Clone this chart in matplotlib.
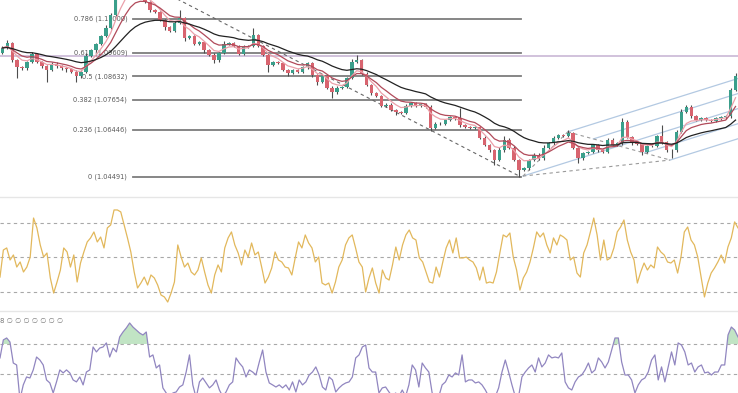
import numpy as np
import pandas as pd
import matplotlib
matplotlib.use("Agg")
import matplotlib.pyplot as plt
from matplotlib.lines import Line2D

# ============================
# Price data (one candle per slot)
# ============================
first_open = 1.0960
closes = [
    1.0981, 1.1001, 1.0931, 1.0902, 1.0898, 1.0923, 1.0956, 1.0923, 1.0906, 1.0890,
    1.0915, 1.0906, 1.0898, 1.0894, 1.0882, 1.0865, 1.0882, 1.0948, 1.0972, 1.0997,
    1.1030, 1.1063, 1.1117, 1.1199, 1.1240, 1.1261, 1.1269, 1.1240, 1.1199, 1.1170,
    1.1137, 1.1129, 1.1096, 1.1067, 1.1051, 1.1084, 1.1104, 1.1022, 1.1030, 1.0997,
    1.1005, 1.0972, 1.0952, 1.0931, 1.0960, 1.0997, 1.1001, 1.0989, 1.0956, 1.0985,
    1.0989, 1.1034, 1.0989, 1.0952, 1.0911, 1.0923, 1.0919, 1.0890, 1.0878, 1.0890,
    1.0882, 1.0902, 1.0919, 1.0869, 1.0841, 1.0865, 1.0816, 1.0799, 1.0816, 1.0820,
    1.0857, 1.0923, 1.0931, 1.0874, 1.0828, 1.0795, 1.0783, 1.0742, 1.0746, 1.0725,
    1.0717, 1.0713, 1.0742, 1.0754, 1.0742, 1.0750, 1.0738, 1.0651, 1.0668, 1.0668,
    1.0684, 1.0696, 1.0692, 1.0663, 1.0655, 1.0651, 1.0655, 1.0610, 1.0581, 1.0560,
    1.0519, 1.0560, 1.0602, 1.0569, 1.0519, 1.0478, 1.0486, 1.0519, 1.0540, 1.0527,
    1.0569, 1.0589, 1.0610, 1.0622, 1.0618, 1.0630, 1.0569, 1.0527, 1.0548, 1.0552,
    1.0581, 1.0560, 1.0552, 1.0602, 1.0581, 1.0589, 1.0676, 1.0614, 1.0589, 1.0585,
    1.0552, 1.0577, 1.0577, 1.0618, 1.0593, 1.0560, 1.0560, 1.0635, 1.0717, 1.0738,
    1.0700, 1.0684, 1.0692, 1.0684, 1.0680, 1.0692, 1.0696, 1.0700, 1.0808, 1.0865,
]
# wick length above / below the body, in pips
wick_hi = [
    6, 12, 6, 6, 6, 6, 10, 6, 6, 6,
    6, 6, 6, 6, 6, 6, 6, 10, 6, 6,
    6, 12, 6, 6, 6, 6, 12, 6, 6, 6,
    6, 6, 6, 6, 6, 6, 33, 6, 6, 6,
    6, 6, 6, 6, 6, 12, 6, 6, 6, 6,
    6, 29, 6, 6, 6, 6, 6, 6, 6, 6,
    6, 6, 6, 6, 6, 6, 6, 6, 6, 6,
    6, 14, 20, 6, 6, 6, 6, 6, 6, 6,
    6, 6, 6, 6, 6, 6, 6, 6, 6, 6,
    6, 6, 6, 41, 6, 6, 6, 6, 6, 6,
    6, 12, 14, 6, 6, 6, 6, 6, 6, 6,
    12, 6, 6, 6, 6, 12, 6, 6, 6, 6,
    6, 6, 6, 6, 6, 6, 16, 6, 6, 6,
    6, 6, 6, 6, 45, 6, 6, 6, 14, 6,
    6, 6, 6, 6, 6, 6, 6, 6, 6, 12,
]
wick_lo = [
    6, 6, 6, 45, 6, 6, 6, 6, 6, 49,
    6, 6, 6, 12, 6, 25, 6, 6, 6, 6,
    6, 6, 6, 6, 6, 6, 6, 6, 6, 6,
    6, 6, 6, 14, 6, 6, 6, 12, 6, 6,
    6, 12, 6, 14, 6, 6, 6, 6, 6, 6,
    6, 6, 6, 6, 29, 6, 6, 6, 14, 6,
    6, 6, 6, 6, 14, 6, 6, 25, 6, 6,
    6, 6, 6, 6, 6, 6, 6, 6, 6, 6,
    14, 6, 6, 6, 6, 6, 6, 14, 6, 6,
    6, 6, 6, 6, 6, 6, 6, 6, 6, 6,
    20, 6, 6, 6, 6, 29, 6, 6, 6, 6,
    6, 6, 6, 6, 6, 6, 6, 20, 6, 6,
    6, 6, 6, 6, 6, 6, 6, 6, 6, 6,
    14, 6, 6, 6, 6, 6, 33, 6, 6, 6,
    6, 6, 6, 6, 6, 6, 6, 6, 6, 6,
]

# moving average spans (candles)
ma_spans = [5, 9, 22]

# ============================
# Fibonacci retracement + drawings
# ============================
fib_ratios = ["0.786", "0.618", "0.5", "0.382", "0.236", "0"]
fib_prices = [1.11000, 1.09609, 1.08632, 1.07654, 1.06446, 1.04491]
fib_high = (26.5, 1.12772)
fib_low = (105.4, 1.04491)
level_line = 1.0948

# pitchfork anchors (candle index, price)
fork_a = (105.8, 1.0453)
fork_b = (114.9, 1.0635)
fork_c = (135.7, 1.0519)

# ============================
# Oscillators
# ============================
osc_levels = [80, 50, 20]
osc = [
    33.0, 56.5, 58.3, 47.8, 52.2, 41.7, 46.1, 37.4, 41.7, 50.4,
    84.3, 75.7, 60.9, 50.4, 53.9, 32.2, 19.1, 28.7, 39.1, 58.3,
    54.8, 41.7, 52.2, 28.7, 45.2, 54.8, 63.5, 67.0, 72.2, 63.5,
    67.8, 58.3, 75.7, 78.3, 91.3, 91.3, 89.6, 78.3, 67.0, 54.8,
    37.4, 23.5, 27.8, 33.0, 26.1, 34.8, 32.2, 26.1, 17.4, 15.7,
    11.3, 19.1, 28.7, 60.9, 50.4, 41.7, 45.2, 37.4, 34.8, 39.1,
    49.6, 37.4, 26.1, 19.1, 34.8, 43.5, 37.4, 58.3, 67.0, 72.2,
    60.9, 53.9, 43.5, 56.5, 50.4, 62.6, 52.2, 54.8, 41.7, 27.8,
    33.0, 40.9, 54.8, 47.8, 46.1, 41.7, 40.9, 34.8, 49.6, 63.5,
    58.3, 69.6, 62.6, 58.3, 46.1, 50.4, 27.8, 26.1, 27.8, 19.1,
    28.7, 41.7, 47.8, 60.9, 67.0, 69.6, 58.3, 46.1, 41.7, 20.0,
    32.2, 40.9, 27.8, 19.1, 39.1, 32.2, 30.4, 43.5, 59.1, 47.8,
    60.9, 69.6, 73.9, 67.0, 65.2, 49.6, 46.1, 37.4, 28.7, 27.8,
    41.7, 33.0, 46.1, 58.3, 65.2, 53.9, 67.0, 49.6, 49.6, 50.4,
    47.8, 46.1, 40.9, 30.4, 41.7, 27.8, 28.7, 27.8, 37.4, 53.9,
    69.6, 67.8, 71.3, 50.4, 39.1, 21.7, 32.2, 37.4, 46.1, 58.3,
    72.2, 67.8, 71.3, 60.9, 53.9, 67.0, 60.9, 69.6, 67.8, 65.2,
    47.8, 50.4, 36.5, 33.0, 53.9, 60.9, 72.2, 84.3, 69.6, 47.8,
    65.2, 47.8, 49.6, 58.3, 72.2, 76.5, 82.6, 65.2, 54.8, 47.8,
    27.8, 37.4, 45.2, 39.1, 43.5, 40.9, 59.1, 54.8, 52.2, 46.1,
    45.2, 47.8, 36.5, 50.4, 72.2, 76.5, 65.2, 60.9, 50.4, 33.0,
    15.7, 27.8, 36.5, 40.9, 46.1, 52.2, 45.2, 59.1, 67.0, 80.9,
    75.7,
]

rsi_levels = [70, 50]
rsi = [
    60.7, 72.7, 74.0, 71.3, 57.3, 56.0, 33.0, 42.7, 48.0, 47.3,
    52.7, 61.3, 59.3, 56.0, 46.0, 44.0, 37.3, 44.7, 52.7, 50.7,
    52.7, 50.7, 46.0, 44.7, 48.0, 42.7, 51.3, 52.7, 68.0, 64.7,
    67.3, 68.0, 70.7, 61.3, 67.3, 64.7, 74.7, 78.0, 80.7, 84.0,
    81.3, 79.3, 77.3, 76.0, 78.0, 61.3, 62.7, 54.0, 56.0, 40.7,
    37.3, 33.0, 37.3, 38.0, 41.3, 42.7, 51.3, 62.7, 42.7, 34.0,
    44.7, 47.3, 44.0, 40.7, 42.7, 46.0, 39.3, 35.0, 38.0, 42.7,
    44.7, 60.7, 57.3, 54.7, 48.0, 52.7, 51.3, 49.3, 58.0, 66.0,
    51.3, 44.0, 42.7, 41.3, 42.7, 40.7, 42.7, 39.3, 44.7, 38.0,
    46.0, 42.7, 44.7, 49.3, 51.3, 54.7, 49.3, 41.3, 39.3, 48.0,
    46.0, 38.0, 40.7, 42.7, 44.0, 44.7, 48.0, 60.7, 62.7, 68.0,
    69.3, 54.0, 51.3, 51.3, 37.3,
    40.7, 41.3, 38.0, 35.0, 37.3, 35.0, 39.3, 35.0, 42.7, 56.0,
    52.7, 41.3, 57.3, 54.0, 51.3, 37.3, 35.0, 35.0, 42.7, 44.7,
    49.3, 48.0, 50.7, 49.3, 62.7, 44.7, 46.0, 46.0, 44.0, 44.7,
    42.7, 39.3, 35.0, 34.0, 35.0, 40.7, 51.3, 59.3, 51.3, 42.7,
    35.0, 35.0, 48.0, 51.3, 54.0, 56.0, 51.3, 60.7, 54.7, 57.3,
    62.7, 60.7, 61.3, 60.7, 64.0, 44.7, 40.7, 39.3, 44.7, 48.0,
    49.3, 52.7, 57.3, 50.7, 52.7, 60.7, 58.0, 54.0, 58.0, 66.0,
    74.0, 74.0, 58.0, 49.3, 49.3, 46.0, 37.3, 42.7, 46.0, 47.3,
    51.3, 59.3, 62.7, 46.0, 54.7, 44.7, 54.7, 64.7, 56.0, 70.7,
    69.3, 64.7, 56.0, 57.3, 51.3, 54.7, 56.0, 50.7, 51.3, 49.3,
    51.3, 51.3, 56.0, 56.0, 76.0, 81.3, 79.3, 74.7,
]
legend_text = "8 \u2205 \u2205 \u2205 \u2205 \u2205 \u2205 \u2205"

# ============================
# Build candles
# ============================
close = np.array(closes)
opens = np.array([first_open] + closes[:-1])
highs = np.maximum(opens, close) + np.array(wick_hi) * 0.0001
lows = np.minimum(opens, close) - np.array(wick_lo) * 0.0001
idx = np.arange(len(close))
up = close >= opens

X_LIM = (-0.5, len(close) - 0.5)

fig = plt.figure(figsize=(7.38, 3.93), dpi=100)
fig.patch.set_facecolor("white")

H = 393.0
ax = fig.add_axes([0, (H - 197) / H, 1, 197 / H])
ax_osc = fig.add_axes([0, (H - 311) / H, 1, 113 / H])
ax_rsi = fig.add_axes([0, 0, 1, 82 / H])
for a in (ax, ax_osc, ax_rsi):
    a.set_axis_off()
    a.set_xlim(*X_LIM)

ax.set_ylim(1.03667, 1.11784)
ax_osc.set_ylim(3.5, 101.7)
ax_rsi.set_ylim(37.3, 92.0)

# panel separators
for yy in (197, 311):
    fig.add_artist(Line2D([0, 1], [(H - yy) / H] * 2, transform=fig.transFigure,
                          color="#e6e6e6", lw=1.0))

# ============================
# Main panel
# ============================
ax.axhline(level_line, color="#c9b8d6", lw=1.2, zorder=1)

for ratio, price in zip(fib_ratios, fib_prices):
    ax.plot([fib_high[0], fib_low[0]], [price, price], color="#7d7d7d", lw=1.3, zorder=2)
    ax.annotate(f"{ratio} ({price:.5f})", (fib_high[0], price), xytext=(-4, 0),
                textcoords="offset points", ha="right", va="center",
                fontsize=4.8, color="#5a5a5a")
ax.plot([fib_high[0], fib_low[0]], [fib_high[1], fib_low[1]], color="#666666",
        lw=0.8, linestyle=(0, (3, 3)), zorder=2)

# pitchfork
A, B, C = np.array(fork_a), np.array(fork_b), np.array(fork_c)
M = (B + C) / 2
slope = (M[1] - A[1]) / (M[0] - A[0])
x_end = X_LIM[1] + 5
for p in (B, (B + M) / 2, M, (M + C) / 2, C):
    ax.plot([p[0], x_end], [p[1], p[1] + slope * (x_end - p[0])],
            color="#b3c9e2", lw=0.9, zorder=2)
ax.plot([A[0], M[0]], [A[1], M[1]], color="#b3c9e2", lw=0.9, zorder=2)
for p, q in ((A, B), (A, C), (B, C)):
    ax.plot([p[0], q[0]], [p[1], q[1]], color="#9a9a9a", lw=0.8,
            linestyle=(0, (3, 3)), zorder=2)

# candles
ax.vlines(idx, lows, highs, color="#4d4d4d", lw=0.8, zorder=3)
body = np.where(np.abs(close - opens) < 0.00005, 0.00005, close - opens)
ax.bar(idx, body, bottom=opens, width=0.7,
       color=np.where(up, "#3a9f8b", "#d8646f"), edgecolor="none", zorder=4)

# moving averages
s = pd.Series(close)
ma_colors = ["#eba0aa", "#b14a5a", "#222222"]
for span, col in zip(ma_spans, ma_colors):
    ax.plot(idx, s.ewm(span=span, adjust=False).mean(), color=col, lw=0.9, zorder=5)

# ============================
# Oscillator panel
# ============================
x_osc = np.linspace(X_LIM[0], X_LIM[1], len(osc))
for lv in osc_levels:
    ax_osc.axhline(lv, color="#a8a8a8", lw=0.8, linestyle=(0, (3, 3)))
ax_osc.plot(x_osc, osc, color="#e2b85c", lw=0.9)

# ============================
# RSI panel
# ============================
x_rsi = np.linspace(X_LIM[0], X_LIM[1], len(rsi))
r = np.array(rsi)
for lv in rsi_levels:
    ax_rsi.axhline(lv, color="#a8a8a8", lw=0.8, linestyle=(0, (3, 3)))
ax_rsi.fill_between(x_rsi, 70, r, where=r > 70, interpolate=True,
                    color="#8fcf95", alpha=0.55, lw=0)
ax_rsi.plot(x_rsi, r, color="#9186c0", lw=0.9)
ax_rsi.text(0.0, 0.88, legend_text, transform=ax_rsi.transAxes, fontsize=5,
            color="#7a7a7a", ha="left", va="center")

plt.savefig("out.png", dpi=100)
